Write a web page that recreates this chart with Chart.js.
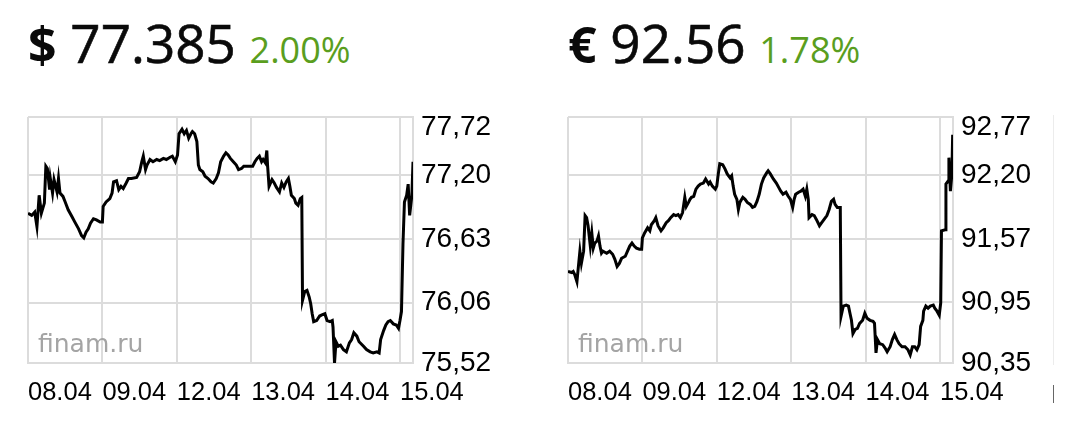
<!DOCTYPE html>
<html>
<head>
<meta charset="utf-8">
<script src="https://cdn.jsdelivr.net/npm/chart.js@4.4.1/dist/chart.umd.min.js"></script>
<style>
  body { margin: 0; background: #fff; width: 1080px; height: 438px; overflow: hidden; position: relative; font-family: "Open Sans", sans-serif; }
  .panel { position: absolute; top: 0; width: 540px; height: 438px; }
  .head { position: absolute; left: 28px; top: 16px; font-size: 53px; line-height: 53px; white-space: nowrap; color: #0a0a0a; font-weight: 400; -webkit-text-stroke: 0.6px #0a0a0a; }
  .head .cur { font-weight: 700; font-size: 50px; -webkit-text-stroke: 0; }
  .head .chg { font-size: 36px; color: #5a9e1e; font-weight: 400; -webkit-text-stroke: 0; }
  .panel canvas { position: absolute; left: 0; top: 100px; }
  .edge { position: absolute; left: 1053px; width: 1px; }
</style>
</head>
<body>

<div class="panel" style="left:0">
  <div class="head"><span class="cur">$</span> 77.385 <span class="chg">2.00%</span></div>
  <canvas id="chartUsd" width="540" height="338"></canvas>
</div>
<div class="panel" style="left:540px">
  <div class="head"><span class="cur">€</span> 92.56 <span class="chg">1.78%</span></div>
  <canvas id="chartEur" width="540" height="338"></canvas>
</div>
<div class="edge" style="top:115px;height:250px;background:#ececec"></div>
<div class="edge" style="top:385px;height:18px;background:#666"></div>

<script>
// days on the x axis (one gridline per trading day)
const dayLabels = ["08.04", "09.04", "12.04", "13.04", "14.04", "15.04"];

// USD/RUB: time in trading days since 08.04 open, price in roubles
const usdTime = [
  0.00, 0.05, 0.09, 0.12, 0.15, 0.18, 0.22, 0.24, 0.26, 0.29,
  0.30, 0.33, 0.35, 0.39, 0.41, 0.43, 0.47, 0.50, 0.54, 0.59,
  0.63, 0.68, 0.72, 0.75, 0.78, 0.81, 0.84, 0.88, 0.92, 0.97,
  1.00, 1.01, 1.05, 1.10, 1.13, 1.15, 1.19, 1.22, 1.25, 1.28,
  1.32, 1.35, 1.39, 1.46, 1.50, 1.53, 1.55, 1.58, 1.60, 1.64,
  1.68, 1.73, 1.77, 1.82, 1.86, 1.91, 1.94, 1.98, 2.01, 2.03,
  2.07, 2.10, 2.13, 2.16, 2.19, 2.21, 2.24, 2.27, 2.29, 2.31,
  2.35, 2.38, 2.42, 2.46, 2.49, 2.53, 2.56, 2.59, 2.63, 2.66,
  2.69, 2.72, 2.76, 2.80, 2.83, 2.87, 2.90, 2.94, 2.98, 3.02,
  3.05, 3.08, 3.11, 3.14, 3.16, 3.19, 3.21, 3.22, 3.24, 3.28,
  3.31, 3.34, 3.38, 3.41, 3.44, 3.47, 3.50, 3.52, 3.54, 3.58,
  3.60, 3.63, 3.66, 3.68, 3.69, 3.72, 3.75, 3.78, 3.80, 3.82,
  3.84, 3.88, 3.92, 3.95, 3.99, 4.02, 4.06, 4.09, 4.10, 4.12,
  4.14, 4.17, 4.20, 4.24, 4.28, 4.32, 4.35, 4.38, 4.42, 4.45,
  4.51, 4.55, 4.60, 4.64, 4.69, 4.72, 4.74, 4.78, 4.81, 4.84,
  4.87, 4.91, 4.95, 4.98, 5.00, 5.02, 5.04, 5.06, 5.09, 5.11,
  5.13, 5.16, 5.175
];
const usdPrice = [
  76.86, 76.84, 76.87, 76.74, 77.02, 76.86, 76.95, 77.28, 77.26, 77.07,
  77.17, 77.04, 77.16, 77.05, 77.17, 77.04, 77.01, 76.96, 76.89, 76.83,
  76.78, 76.72, 76.66, 76.64, 76.69, 76.72, 76.77, 76.81, 76.80, 76.78,
  76.78, 76.92, 76.96, 76.99, 77.04, 77.14, 77.15, 77.07, 77.10, 77.08,
  77.13, 77.17, 77.17, 77.18, 77.23, 77.32, 77.37, 77.25, 77.29, 77.34,
  77.32, 77.34, 77.33, 77.35, 77.34, 77.36, 77.37, 77.32, 77.38, 77.57,
  77.61, 77.57, 77.60, 77.53, 77.57, 77.59, 77.57, 77.50, 77.29, 77.25,
  77.23, 77.19, 77.17, 77.14, 77.13, 77.17, 77.22, 77.32, 77.37, 77.40,
  77.38, 77.35, 77.32, 77.29, 77.25, 77.26, 77.28, 77.28, 77.28, 77.28,
  77.32, 77.35, 77.37, 77.32, 77.34, 77.31, 77.42, 77.29, 77.10, 77.16,
  77.13, 77.09, 77.05, 77.13, 77.09, 77.14, 77.17, 77.10, 77.02, 76.99,
  76.95, 76.93, 76.99, 77.00, 76.08, 76.16, 76.17, 76.11, 76.05, 75.96,
  75.89, 75.90, 75.94, 75.95, 75.96, 75.90, 75.89, 75.90, 75.84, 75.52,
  75.71, 75.67, 75.68, 75.64, 75.62, 75.70, 75.73, 75.79, 75.76, 75.71,
  75.67, 75.64, 75.62, 75.61, 75.62, 75.61, 75.73, 75.81, 75.86, 75.89,
  75.90, 75.87, 75.86, 75.83, 75.90, 75.98, 76.58, 76.96, 77.02, 77.12,
  76.84, 77.02, 77.32
];
const usdTicks = [75.52, 76.06, 76.63, 77.20, 77.72];

// EUR/RUB
const eurTime = [
  0.00, 0.05, 0.07, 0.09, 0.12, 0.14, 0.16, 0.18, 0.21, 0.23,
  0.25, 0.27, 0.30, 0.32, 0.34, 0.36, 0.39, 0.41, 0.43, 0.45,
  0.47, 0.52, 0.56, 0.60, 0.63, 0.66, 0.69, 0.72, 0.77, 0.80,
  0.83, 0.86, 0.89, 0.92, 0.96, 0.99, 1.00, 1.03, 1.07, 1.10,
  1.12, 1.16, 1.18, 1.21, 1.25, 1.28, 1.32, 1.35, 1.38, 1.42,
  1.45, 1.48, 1.51, 1.54, 1.57, 1.59, 1.62, 1.64, 1.66, 1.69,
  1.72, 1.75, 1.78, 1.82, 1.85, 1.89, 1.91, 1.94, 1.98, 2.00,
  2.02, 2.04, 2.08, 2.11, 2.14, 2.18, 2.20, 2.22, 2.24, 2.27,
  2.29, 2.31, 2.35, 2.38, 2.41, 2.45, 2.48, 2.51, 2.54, 2.57,
  2.60, 2.63, 2.67, 2.69, 2.72, 2.76, 2.80, 2.83, 2.86, 2.89,
  2.93, 2.96, 2.99, 3.02, 3.04, 3.06, 3.10, 3.13, 3.16, 3.19,
  3.21, 3.23, 3.24, 3.28, 3.31, 3.34, 3.38, 3.41, 3.44, 3.48,
  3.51, 3.54, 3.57, 3.59, 3.62, 3.66, 3.67, 3.70, 3.74, 3.77,
  3.79, 3.81, 3.83, 3.86, 3.89, 3.92, 3.96, 3.99, 4.02, 4.06,
  4.10, 4.12, 4.14, 4.16, 4.19, 4.23, 4.26, 4.29, 4.33, 4.36,
  4.39, 4.42, 4.45, 4.49, 4.53, 4.57, 4.60, 4.63, 4.66, 4.69,
  4.72, 4.74, 4.77, 4.78, 4.81, 4.84, 4.87, 4.91, 4.93, 4.96,
  4.99, 5.01, 5.02, 5.07, 5.08, 5.11, 5.12, 5.14, 5.16, 5.17,
  5.175
];
const eurPrice = [
  91.25, 91.24, 91.25, 91.22, 91.15, 91.30, 91.45, 91.33, 91.45, 91.80,
  91.78, 91.70, 91.50, 91.63, 91.48, 91.53, 91.55, 91.60, 91.50, 91.43,
  91.45, 91.43, 91.45, 91.42, 91.37, 91.30, 91.33, 91.38, 91.40, 91.45,
  91.50, 91.53, 91.50, 91.48, 91.47, 91.47, 91.58, 91.63, 91.68, 91.65,
  91.71, 91.75, 91.78, 91.70, 91.65, 91.68, 91.73, 91.75, 91.78, 91.81,
  91.80, 91.81, 91.78, 91.83, 91.98, 91.89, 91.93, 91.96, 91.98, 91.99,
  92.06, 92.09, 92.11, 92.12, 92.16, 92.11, 92.13, 92.09, 92.06, 92.09,
  92.21, 92.31, 92.30, 92.26, 92.21, 92.17, 92.19, 92.09, 92.01, 91.96,
  91.86, 91.93, 91.98, 91.96, 91.93, 91.91, 91.88, 91.89, 91.94, 92.01,
  92.11, 92.17, 92.22, 92.24, 92.21, 92.16, 92.12, 92.08, 92.04, 92.01,
  92.03, 91.99, 91.96, 91.88, 91.96, 92.01, 92.03, 92.04, 92.06, 91.99,
  92.06, 91.96, 91.78, 91.81, 91.80, 91.76, 91.70, 91.73, 91.76, 91.80,
  91.86, 91.94, 91.96, 91.91, 91.88, 91.88, 90.81, 90.91, 90.92, 90.91,
  90.84, 90.77, 90.64, 90.68, 90.69, 90.74, 90.77, 90.84, 90.79, 90.77,
  90.76, 90.74, 90.45, 90.58, 90.54, 90.53, 90.50, 90.46, 90.51, 90.58,
  90.63, 90.58, 90.54, 90.51, 90.51, 90.48, 90.43, 90.51, 90.51, 90.48,
  90.53, 90.71, 90.77, 90.86, 90.91, 90.89, 90.91, 90.92, 90.89, 90.86,
  90.82, 90.94, 91.65, 91.66, 92.11, 92.14, 92.37, 92.04, 92.21, 92.58,
  92.58
];
const eurTicks = [90.35, 90.95, 91.57, 92.20, 92.77];

const GRID = "#dcdcdc";

// gray "finam.ru" mark in the lower left of the plot
const watermark = {
  id: "watermark",
  beforeDatasetsDraw(chart) {
    const { ctx, chartArea } = chart;
    ctx.save();
    ctx.font = '25px "DejaVu Sans"';
    ctx.fillStyle = "#a4a4a4";
    ctx.textBaseline = "alphabetic";
    ctx.fillText("finam.ru", chartArea.left + 10, chartArea.bottom - 11);
    ctx.restore();
  }
};

// fixed axis sizes so the plot box lands where the original has it
function fixSize(prop, size) {
  return s => {
    s[prop] = size;
    s.paddingTop = 0;
    s.paddingBottom = 0;
    s.paddingLeft = 0;
    s.paddingRight = 0;
  };
}

function makeChart(id, times, prices, ticks) {
  const ctx = document.getElementById(id).getContext("2d");
  const n = Math.min(times.length, prices.length);
  const points = [];
  for (let i = 0; i < n; i++) points.push({ x: times[i], y: prices[i] });

  return new Chart(ctx, {
    type: "line",
    data: {
      datasets: [{
        data: points,
        borderColor: "#000",
        borderWidth: 3,
        borderJoinStyle: "miter",
        pointRadius: 0,
        fill: false,
        tension: 0
      }]
    },
    options: {
      responsive: false,
      animation: false,
      devicePixelRatio: 1,
      layout: { padding: { left: 28, top: 17, right: 0, bottom: 0 } },
      plugins: { legend: { display: false }, tooltip: { enabled: false } },
      scales: {
        x: {
          type: "linear",
          min: 0,
          max: 5.175,
          afterBuildTicks: s => { s.ticks = dayLabels.map((_, i) => ({ value: i })); },
          afterFit: fixSize("height", 75),
          grid: { color: GRID, lineWidth: 2, drawTicks: false },
          border: { color: GRID, width: 2 },
          ticks: {
            autoSkip: false,
            maxRotation: 0,
            align: "start",
            padding: 15,
            color: "#000",
            font: { family: '"Liberation Sans", Arial, sans-serif', size: 25.5 },
            callback: (v, i) => dayLabels[i]
          }
        },
        y: {
          type: "linear",
          position: "right",
          min: ticks[0],
          max: ticks[ticks.length - 1],
          afterBuildTicks: s => { s.ticks = ticks.map(v => ({ value: v })); },
          afterFit: fixSize("width", 127),
          grid: { color: GRID, lineWidth: 2, drawTicks: false },
          border: { color: GRID, width: 2 },
          ticks: {
            padding: 8,
            color: "#000",
            font: { family: '"Liberation Sans", Arial, sans-serif', size: 28, lineHeight: 0.72 },
            callback: (v, i, all) => {
              const txt = Number(v).toFixed(2).replace(".", ",");
              // top label sits just inside the box
              return i === all.length - 1 ? ["", txt] : txt;
            }
          }
        }
      }
    },
    plugins: [watermark]
  });
}

document.addEventListener("DOMContentLoaded", () => {
  makeChart("chartUsd", usdTime, usdPrice, usdTicks);
  makeChart("chartEur", eurTime, eurPrice, eurTicks);
});
</script>
</body>
</html>
